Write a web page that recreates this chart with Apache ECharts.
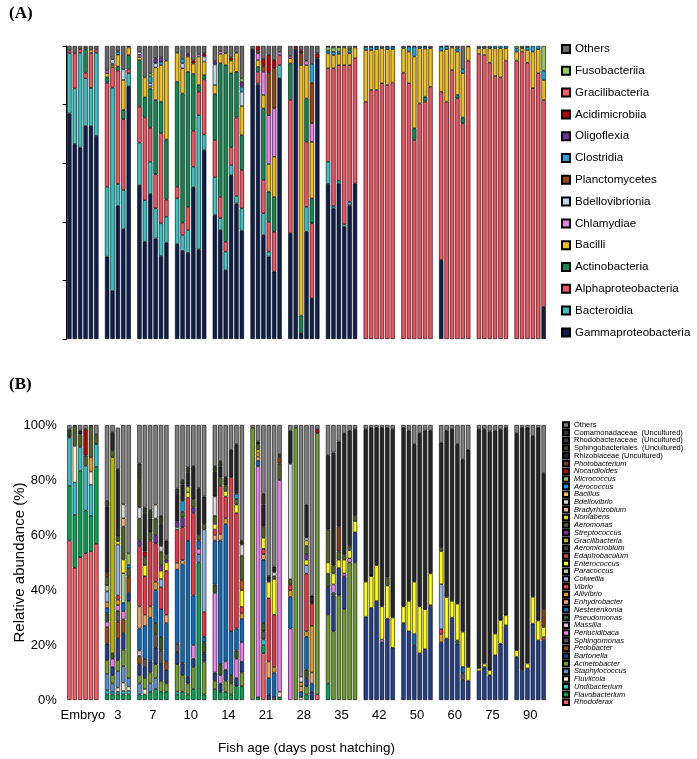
<!DOCTYPE html>
<html><head><meta charset="utf-8">
<script src="https://cdn.jsdelivr.net/npm/echarts@6/dist/echarts.min.js"></script>
<style>html,body{margin:0;padding:0;background:#fff}#c{width:697px;height:759px}</style>
</head><body><div id="c"></div>
<script>
// ---------- categories ----------
const GROUPS = ['Embryo','3','7','10','14','21','28','35','42','50','60','75','90'];

// ---------- Panel A : class level (bottom -> top) ----------
const A_KEYS  = ['G','Bd','Al','Ac','Ba','Ch','Bv','Pl','Cl','Ol','Am','Gr','Fu','O'];
const A_NAMES = ['Gammaproteobacteria','Bacteroidia','Alphaproteobacteria','Actinobacteria','Bacilli','Chlamydiae','Bdellovibrionia','Planctomycetes','Clostridia','Oligoflexia','Acidimicrobiia','Gracilibacteria','Fusobacteriia','Others'];
const A_COLORS = ['#0e1f4f','#35c4c4','#f4515f','#108a50','#f5bf0a','#f07cf0','#bdd7ee','#9c440e','#1aa6e0','#7030a0','#c00000','#ff5a66','#92d050','#6b6b6b'];

const A_embryo = [
 {G:77,Bd:20.5,Al:1,O:1.5},
 {G:66.5,Bd:19,Al:12,O:2.5},
 {G:65.4,Bd:32.3,Al:1.2,O:1.1},
 {G:72.7,Bd:16.3,Al:1.9,Ac:8,Ba:0.5,O:0.6},
 {G:72.7,Bd:13,Al:12,Ba:1,O:1.3},
 {G:69.3,Bd:28.4,Al:1.1,O:1.2}];
const A_d3 = [
 {G:28.1,Bd:23.9,Al:35.5,Ac:1.8,Ba:1.4,Ch:0.9,O:8.4},
 {G:16.5,Bd:69.3,Al:7,Ba:0.7,Ch:0.5,Bv:1.5,O:4.5},
 {G:45.5,Bd:7.4,Al:38.7,Ac:1.4,Ba:4,Cl:1.1,O:1.9},
 {G:37.5,Bd:13.4,Al:24.1,Ac:3.2,Ba:10.2,Bv:3.6,O:8},
 {G:86.3,Bd:4.4,Al:1.3,Ac:4.9,Ba:2.6,O:0.5}];
const A_d7 = [
 {G:52.5,Bd:14.5,Al:12.3,Ac:15.9,Ba:1,Ch:0.8,Bv:1,O:2},
 {G:33.2,Bd:14.2,Al:28.2,Ac:6.9,Ba:6.8,O:10.7},
 {G:49.5,Bd:11,Al:11.6,Ac:13.4,Ba:0.8,Bv:1,Cl:2.3,Fu:1,O:9.4},
 {G:34.3,Bd:10.3,Al:11.6,Ac:25.4,Ba:11.1,Bv:1.4,Ol:1.7,O:4.2},
 {G:28.3,Bd:11.2,Al:30.7,Ac:10.8,Ba:12.5,Cl:1.1,Ol:1.5,O:3.9},
 {G:32.9,Bd:8.8,Al:5.9,Ac:20.5,Ba:26.9,O:5}];
const A_d10 = [
 {G:32.4,Bd:15.6,Al:4,Ac:35.8,Ba:9.9,O:2.3},
 {G:30.1,Bd:5.4,Al:4.2,Ac:44.1,Ba:8.6,Bv:1.7,Cl:1.5,O:4.4},
 {G:29.4,Bd:7.8,Al:7.9,Ac:46.1,Ba:5.2,Ol:0.9,O:2.7},
 {G:51.8,Bd:7,Al:12.3,Ac:19.4,Ba:3.5,Am:1,O:5},
 {G:30.6,Bd:45.8,Al:8,Ac:2.3,Ba:9.7,Ch:0.9,O:2.7},
 {G:64.5,Bd:5.3,Al:18.8,Ac:1.5,Ba:4.6,Bv:1.7,Am:1.1,O:2.5}];
const A_d14 = [
 {G:42.3,Bd:12.9,Al:12.7,Ac:15.7,Ba:3.1,Bv:7,Ol:1.1,O:5.2},
 {G:37.2,Bd:4,Al:7.3,Ac:45.6,Ba:3.2,Ch:1,O:1.7},
 {G:23.5,Bd:6.3,Al:3.4,Ac:60.3,Ba:4,O:2.5},
 {G:55.9,Bd:3.5,Al:6,Ac:25.3,Ba:4.3,Am:1.1,O:3.9},
 {G:46.3,Bd:2.5,Al:26.8,Ac:15.6,Ba:6.5,O:2.3},
 {G:37,Bd:7.6,Al:13.1,Ac:11.9,Ba:9.9,Bv:4.9,Cl:1.7,Ol:1.7,Fu:1.1,O:11.1}];
const A_d21 = [
 {G:99,O:1},
 {G:86.7,Bd:0.5,Al:4,Ac:1.7,Ba:2.3,Ch:2.3,Pl:1,Am:1.5},
 {G:35.5,Bd:7.4,Al:11.4,Ac:24.4,Ba:4.6,Ch:7.9,Pl:2,Am:2.3,O:4.5},
 {G:28.1,Bd:1.7,Al:10.2,Ac:10.3,Ba:9.4,Ch:16.7,Pl:14.3,Am:6.3,O:3},
 {G:23,Al:13.6,Ac:11.9,Ba:13.7,Ch:16.5,Pl:13.7,Am:2.8,O:4.8},
 {G:89,Bd:4.5,Al:3.4,Ch:1.1,O:2}];
const A_d28 = [
 {G:36.1,Al:45.5,Ac:12.5,Ba:1.7,Ch:0.8,O:3.4},
 {G:99,Am:0.6,O:0.4},
 {G:2,Ac:6,Ba:85.5,Pl:4,Am:1,O:1.5},
 {G:36.6,Bd:8.5,Al:22.2,Ac:14.8,Ba:11.4,Ch:1.5,O:5},
 {G:13.9,Al:25.6,Ac:8.5,Ba:19.3,Ch:6.3,Pl:13.9,Cl:6.4,O:6.1},
 {G:95.8,Am:1.7,O:2.5}];
const A_d35 = [
 {G:52.9,Bd:7.6,Al:31.9,Ba:5.1,Cl:0.9,Fu:1.3,O:0.3},
 {G:44.6,Bd:0.8,Al:47,Ba:4.5,Cl:1.1,Fu:1.5,O:0.5},
 {G:53.1,Bd:0.9,Al:39.5,Ba:3.8,Cl:0.8,Fu:1.5,O:0.4},
 {G:38.3,Bd:0.8,Al:54.4,Ba:6,O:0.5},
 {G:45.7,Bd:1.1,Al:46.7,Ba:4,Cl:1,Fu:0.5,O:1},
 {G:53.1,Al:42.7,Ba:3.7,O:0.5}];
const A_d42 = [
 {Al:81,Ba:17.6,Cl:1,O:0.4},
 {Al:85,Ba:13.6,Cl:1,O:0.4},
 {Al:85,Ba:13.9,Cl:0.8,O:0.3},
 {Al:87.3,Ba:11.9,O:0.8},
 {Al:86.7,Ba:12.2,Cl:0.8,O:0.3},
 {Al:87.5,Ba:11.4,Cl:0.8,O:0.3}];
const A_d50 = [
 {Al:90.9,Ba:8.3,O:0.8},
 {Al:87.3,Ba:10.8,Cl:1.7,O:0.2},
 {Al:67.9,Ac:4,Ba:24.5,Cl:3.4,O:0.2},
 {Al:80.4,Ba:18.8,O:0.8},
 {Al:81,Ac:1.7,Ba:16.4,Cl:0.7,O:0.2},
 {Al:86.1,Ba:13.1,O:0.8}];
const A_d60 = [
 {G:26.9,Al:57.5,Ba:14,Cl:1.3,O:0.3},
 {Al:81,Ba:17.9,Cl:1,O:0.1},
 {Al:91.8,Ba:7.7,O:0.5},
 {Al:82.1,Ac:1.2,Ba:14.8,Cl:1,O:0.9},
 {Al:73.6,Ac:2,Ba:15.1,Cl:1.3,O:8},
 {Al:95,Ba:4.8,O:0.2}];
const A_d75 = [
 {Al:97.3,Ba:1.9,O:0.8},
 {Al:96.9,Ba:2.3,O:0.8},
 {Al:94.3,Ba:4.9,O:0.8},
 {Al:89.8,Ba:9.4,Cl:0.8},
 {Al:89.3,Ba:9.9,Cl:0.8},
 {Al:95,Ba:4.2,Cl:0.8}];
const A_d90 = [
 {Al:95,Ba:3.1,Cl:1.1,Fu:0.8},
 {Al:98.1,Ba:1.1,O:0.8},
 {Al:94.3,Ba:4.3,Cl:1,O:0.4},
 {Al:85.6,Ba:12.5,Cl:1.9},
 {Al:90.7,Ba:8.2,Cl:1.1},
 {G:11,Al:70.6,Ba:6.8,Cl:3.2,Fu:8.4}];
const A_GROUPS = [A_embryo,A_d3,A_d7,A_d10,A_d14,A_d21,A_d28,A_d35,A_d42,A_d50,A_d60,A_d75,A_d90];

// ---------- Panel B : genus level (bottom -> top) ----------
const B_KEYS = ['Rh','Fl','Un','Fv','St','Ac','Ba','Pd','Sp','Pe','Ma','Ps','Ne','En','Al','Vi','Co','Pa','Ec','Ed','Am','Gr','Sr','Ae','No','Br','Bd','Bc','Ar','Mi','Nc','Ph','Rz','Sb','Rb','Cm','O'];
const B_NAMES = ['Rhodoferax','Flavobacterium','Undibacterium','Fluviicola','Staphylococcus','Acinetobacter','Bartonella','Pedobacter','Sphingomonas','Perlucidibaca','Massilia','Pseudomonas','Nesterenkonia','Enhydrobacter','Aliivibrio','Vibrio','Colwellia','Paracoccus','Enterococcus','Edaphobaculum','Aeromicrobium','Gracilibacteria','Streptococcus','Aeromonas','Nonlabens','Bradyrhizobium','Bdellovibrio','Bacillus','Aerococcus','Micrococcus','Nocardioides','Photobacterium','Rhizobiaceae (Uncultured)','Sphingobacteriales  (Uncultured)','Rhodobacteraceae  (Uncultured)','Comamonadaceae  (Uncultured)','Others'];
const B_ITALIC = [1,1,1,1,1,1,1,1,1,1,1,1,1,1,1,1,1,1,1,1,1,1,1,1,1,1,1,1,1,1,1,1,0,0,0,0,0];
const B_COLORS = ['#ff5a64','#00a651','#2ec4d0','#f3f0cf','#5b8fd6','#6f9e2f','#22408a','#9c4a12','#555555','#f07cf0','#e6b9d8','#3b5a22','#0a6cc0','#f4a261','#e39b1b','#ee3344','#8fb4e3','#a9d18e','#ffff00','#c55a11','#3c3c3c','#bdbd00','#7030a0','#4f6228','#d4d41e','#f4b183','#d8d8d8','#f2c14e','#00a0e9','#9bbb59','#c00000','#843c0c','#262626','#4a4220','#3a3a3a','#2f3a22','#808080'];

const B_embryo = [
 {Rh:58,Fl:19.9,Un:17.5,Cm:3,O:1.6},
 {Rh:48.1,Fl:19.2,Un:11.8,Fv:13.3,Ae:7.3,O:0.3},
 {Rh:51.9,Fl:31.5,Un:8.6,Ae:4.6,Rz:1.4,O:2},
 {Rh:53.4,Fl:15.5,Un:16.3,Ae:3.7,Nc:9.6,O:1.5},
 {Rh:54.1,Fl:12.9,Un:11.3,Fv:4.8,Al:5.1,Ae:11.5,O:0.3},
 {Rh:56.8,Fl:28,Un:8.2,Ae:3.6,O:3.4}];
const B_d3 = [
 {Fl:2,Un:1.5,St:6,Ac:5,Ba:6,Pd:6,Pe:2,Ps:3,Ne:2,Al:2,Co:4,Pa:2.2,Ae:3,Ph:1.5,Rz:24.2,Sb:2,O:27.5},
 {Fl:2,Un:1,St:3,Ac:3,Ba:3,Pe:3,Ps:2,Gr:71.3,Ae:2.3,Rz:6.8,O:2.6},
 {Fl:2,Un:1,Fv:1.5,St:6,Ac:4,Ba:8,Pd:6,Sp:4,Pe:2,Al:2,Vi:1.5,Co:18.5,Ec:1.2,Ae:1.8,Rz:24.4,O:15.1},
 {Fl:2,Un:1.3,Fv:3,St:6,Ac:6,Ba:6,Pd:5,Pe:3,Ne:3,Pa:10.8,Ec:5,Ae:12,Br:3,Bd:5,O:28.9},
 {Fl:2,Un:1.4,Fv:1.5,St:3,Ac:28,Ba:3,Pd:6,Ae:3,Ar:1.2,Mi:4.2,O:46.7}];
const B_d7 = [
 {Fl:2,St:4,Ac:3,Ba:4,Pd:3,Ma:2,Ne:8,En:8,Vi:22,Sr:2,Ae:8,Bd:4,Sb:10,Cm:6,O:14},
 {Fl:2,Fv:2,Ac:4,Ba:4,Sp:3,Ne:12,En:4,Vi:14,Ec:4,Ae:3,Nc:2,Rz:14,Cm:2,O:30},
 {Fl:3,St:3,Ac:4,Ba:4,Ne:16,Al:4,Vi:24,Ae:3,Rz:5,Cm:3,O:31},
 {Fl:4,St:4,Ac:5,Ba:6,Sp:5,Ps:4,Ne:12,Al:3,Vi:14,Sr:3,Ae:6,Bd:5,O:29},
 {Fl:3,Ac:4,Ba:6,Sp:5,Ps:5,Ne:10,Vi:8,Co:3,Ec:3,Sr:2,Ae:5,Bd:2,Rz:8,Cm:3,O:33},
 {Fl:3,Ac:3,Ba:5,Pd:3,Ne:14,En:3,Vi:16,Ec:3,Sr:1,Ae:2,Rz:5,O:42}];
const B_d10 = [
 {Fl:2,Un:1,Ac:10,Ba:4.5,Sp:3,Ne:27,En:2.4,Vi:12,Pa:1,Sr:2,Rz:10,Cm:2,O:23.1},
 {Fl:3,Ac:6,Ba:4.3,Ne:36,En:1.5,Vi:12,Sr:3.6,Ae:2,Ar:4,Rz:6,Cm:1.6,O:20},
 {Fl:2,Ac:4,Ba:2.4,Ne:49.5,Vi:15.7,Ec:2,No:2,Rz:5,Cm:2,O:15.4},
 {Fl:4,Ac:8,Ba:3,Pe:5,Ne:18,Vi:30,Sr:2,Ae:3,Rz:12,O:15},
 {Fl:50,St:3,Pe:2,Ne:3,Ae:2,Rz:17,O:23},
 {Fl:2,Ac:12,Ba:3,Ps:4,Ne:2,Vi:9,Co:30,Ae:2,Rz:10,O:26}];
const B_d14 = [
 {Fl:4,Ac:3,Ba:3,Pe:29,Ps:3,Ne:16,En:2,Vi:2,Ec:2,Ae:3,Bd:7,Rz:9,Cm:2,O:15},
 {Fl:3,Ba:3,Pe:3,Ps:4,Ne:45,En:2.4,Vi:17.5,Ae:3,Rz:4,Cm:2,O:13.1},
 {Fl:3,Ac:4,Ba:4,Pe:3,Ne:50,Al:2,Vi:8,Ec:2,Ae:2,Rz:3,O:19},
 {Fl:2,Ac:4,Ps:3,Ne:16,Vi:56,Rz:10,O:9},
 {Fl:5,Ba:3,Pe:7,Ps:3,Ne:8,Vi:42,Ec:3,Ae:2,Ar:2,Rz:18,O:7},
 {Fl:5,Ac:5,Ba:4,Pe:7,Ne:8.5,Al:2,Vi:2.4,Ec:6,Ed:3.6,Ae:9,Bd:4,Cm:1.5,O:42}];
const B_d21 = [
 {Ac:99,O:1},
 {Fl:1,Pe:84,Ne:2,En:1.5,Al:1.5,Ec:1,Ae:2,Rz:1,O:6},
 {Rh:17,Fl:3,Un:2,Sp:3,Ps:3,Ne:23,En:2,Vi:2,Ec:4,Ae:4,Rz:8,Cm:4,O:25},
 {Ba:2,Ne:6,En:6,Vi:23,Ec:6,Rz:2,O:55},
 {Sp:1,Ne:9,Al:2,Vi:19,Ec:13,Ae:1,Bd:1.5,Rz:2,O:51.5},
 {Fl:1,Fv:2,Pe:77,Ae:6,Ph:2.4,Cm:1,O:10.6}];
const B_d28 = [
 {Pe:26,Ne:11.5,Al:2.4,Vi:2,Ae:2,Bd:42,Rz:12,O:2.1},
 {Ac:99,O:1},
 {Fv:1,Ne:2,En:2,Al:1.5,Bd:2,O:91.5},
 {Fl:2,Ac:3,Ba:3,Ps:3,Ne:12,Al:2,Vi:21,Co:3,Ec:2,Sr:2,Ae:3,No:2,Bd:1,Rz:12,O:29},
 {Ba:3,Ne:3,En:4,Al:17,Vi:8,Rz:3,O:62},
 {Rh:2,Ac:95,Nc:1.5,O:1.5}];
const B_d35 = [
 {Fl:6,Ac:25,Ba:10,Ps:5,Ec:4,Ae:12,Rz:27,O:11},
 {Ac:25,Ba:13,Sp:1,Pe:3,Ec:4,Ae:3,Rz:41,O:10},
 {Ac:38,Ba:10,Ec:3,Ae:3,Ph:9,Rz:31,O:6},
 {Ac:33,Ba:12,Pe:1,Ec:5,Ae:2,Rz:44,O:3},
 {Ac:50,Pe:1.5,Ec:3,Ae:1.5,Rz:42,O:2},
 {Ac:50,Ba:11,Ec:4,Ae:2,Rz:31.5,O:1.5}];
const B_d42 = [
 {Ba:30.3,Ec:12.7,Rz:55.5,O:1.5},
 {Ba:33.5,Ec:11.5,Rz:54,O:1},
 {Ba:36,Ec:13,Rz:50,O:1},
 {Ba:21,Pe:1,Ec:12,Rz:65,O:1},
 {Ba:29.6,Ec:12,Ae:3,Rz:54.4,O:1},
 {Ba:19,Ec:11,Rz:68.5,O:1.5}];
const B_d50 = [
 {Ba:28,Ec:6,Rz:65,O:1},
 {Ba:25,Ec:11,Rz:62,O:2},
 {Ba:20,Ne:4,Ec:19,Rz:50,O:7},
 {Ba:17,Ec:17,Rz:63,O:3},
 {Ba:18.5,Ec:14.5,Rz:65,O:2},
 {Ba:34.5,Ec:11.5,Rz:52,O:2}];
const B_d60 = [
 {Ba:21,Al:3,Vi:1.8,Co:16.3,Ec:12,Ae:1.2,Rz:38.3,O:6.4},
 {Ba:22.4,Ec:15,Rz:60.6,O:2},
 {Ba:30,Ec:6,Rz:62.5,O:1.5},
 {Ba:20.5,Ps:1.2,Ec:13.3,Rz:58,O:7},
 {Ba:7.3,Sp:2.4,Ne:2.4,Ec:12.7,Rz:62.8,O:12.4},
 {Ba:7,Ec:5,Rz:79,O:9}];
const B_d75 = [
 {Ba:10.5,Ec:1,Rz:87,O:1.5},
 {Ba:12,Ec:1.2,Rz:85.3,O:1.5},
 {Ba:9,Ec:1.8,Rz:86.9,O:2.3},
 {Ba:16.3,Ec:7.8,Rz:73.9,O:2},
 {Ba:20.5,Ec:8.5,Rz:69.5,O:1.5},
 {Ba:27.2,Ec:3.6,Rz:68.2,O:1}];
const B_d90 = [
 {Ba:15.7,Ec:2.4,Rz:78.9,O:3},
 {Ba:10.9,Rz:88.1,O:1},
 {Ba:11.5,Ec:1.8,Rz:85.7,O:1},
 {Ba:27.8,Ec:9.7,Rz:58.5,O:4},
 {Ba:21.7,Ec:7.2,Rz:70.1,O:1},
 {Ba:21.7,Vi:1.2,Ec:3.6,Ph:6.6,Rz:49.5,O:17.4}];
const B_GROUPS = [B_embryo,B_d3,B_d7,B_d10,B_d14,B_d21,B_d28,B_d35,B_d42,B_d50,B_d60,B_d75,B_d90];

// ---------- build slot layout (one slot per bar, one empty slot between groups) ----------
function buildSlots(groups){
  const slots = []; const centers = [];
  groups.forEach((g,gi)=>{
    const start = slots.length;
    g.forEach(b=>slots.push(b));
    centers.push(start + g.length/2);
    if (gi < groups.length-1) slots.push(null);
  });
  return {slots, centers};
}
const LA = buildSlots(A_GROUPS);
const LB = buildSlots(B_GROUPS);
const NSLOT = LA.slots.length;
const slotCats = LA.slots.map((_,i)=>'s'+i);

const GRID_LEFT = 66.7, SLOT_W = 5.389;

const series = [];
A_KEYS.forEach((k,i)=>{
  series.push({
    name: A_NAMES[i], type:'bar', stack:'A', xAxisIndex:0, yAxisIndex:0,
    barCategoryGap:'20%',
    itemStyle:{color:A_COLORS[i], borderColor:'#000', borderWidth:0.6},
    emphasis:{disabled:true},
    data: LA.slots.map(s => (s && s[k]!=null) ? s[k] : null)
  });
});
B_KEYS.forEach((k,i)=>{
  series.push({
    name: 'B:'+B_NAMES[i], type:'bar', stack:'B', xAxisIndex:1, yAxisIndex:1,
    barCategoryGap:'20%',
    itemStyle:{color:B_COLORS[i], borderColor:'#000', borderWidth:0.6},
    emphasis:{disabled:true},
    data: LB.slots.map(s => (s && s[k]!=null) ? s[k] : null)
  });
});

const chart = echarts.init(document.getElementById('c'), null, {renderer:'canvas'});
chart.setOption({
  animation:false,
  backgroundColor:'#fff',
  textStyle:{fontFamily:'Liberation Sans, Arial, sans-serif', color:'#000'},
  title:[
    {text:'(A)', left:4, top:0, textStyle:{fontFamily:'Liberation Serif', fontSize:17, fontWeight:'bold', color:'#000'}},
    {text:'(B)', left:4, top:371, textStyle:{fontFamily:'Liberation Serif', fontSize:17, fontWeight:'bold', color:'#000'}}
  ],
  grid:[
    {left:GRID_LEFT, width:SLOT_W*NSLOT, top:46, height:293},
    {left:GRID_LEFT, width:SLOT_W*NSLOT, top:425, height:275}
  ],
  legend:[
    {orient:'vertical', left:556, top:37, itemWidth:8, itemHeight:8, itemGap:7.8, icon:'rect',
     selectedMode:false,
     textStyle:{fontSize:11.6, lineHeight:14, color:'#000', fontFamily:'Liberation Sans'},
     data: A_NAMES.slice().reverse()},
    {orient:'vertical', left:557, top:416, itemWidth:6, itemHeight:5.5, itemGap:-0.3, icon:'rect',
     selectedMode:false,
     formatter: n => n.replace(/^B:/,''),
     textStyle:{fontSize:7.5, lineHeight:7.45, color:'#000', fontFamily:'Liberation Sans'},
     data: B_NAMES.map((n,i)=>({name:'B:'+n, textStyle:{fontStyle: B_ITALIC[i] ? 'italic':'normal'}})).reverse()}
  ],
  xAxis:[
    {gridIndex:0, type:'category', data:slotCats, show:false},
    {gridIndex:1, type:'category', data:slotCats, show:false},
    {gridIndex:1, type:'value', min:0, max:NSLOT, position:'bottom',
     axisLine:{show:false}, axisTick:{show:false}, splitLine:{show:false},
     axisLabel:{customValues: LB.centers, margin:9, fontSize:13, color:'#000',
       formatter: v => { const i = LB.centers.findIndex(c=>Math.abs(c-v)<0.01); return i>=0 ? GROUPS[i] : ''; }},
     name:'Fish age (days post hatching)', nameLocation:'middle', nameGap:41,
     nameTextStyle:{fontSize:13.5, color:'#000'}}
  ],
  yAxis:[
    {gridIndex:0, type:'value', min:0, max:100, interval:20,
     axisLine:{show:true, lineStyle:{color:'#000', width:1}},
     axisTick:{show:true, length:4, lineStyle:{color:'#000'}},
     axisLabel:{show:false}, splitLine:{show:false}},
    {gridIndex:1, type:'value', min:0, max:100, interval:20,
     axisLine:{show:false}, axisTick:{show:false}, splitLine:{show:false},
     axisLabel:{formatter:'{value}%', fontSize:13, color:'#000', margin:10},
     name:'Relative abundance (%)', nameLocation:'middle', nameGap:39, nameMoveOverlap:false,
     nameTextStyle:{fontSize:15, color:'#000'}}
  ],
  series: series
});
</script></body></html>
